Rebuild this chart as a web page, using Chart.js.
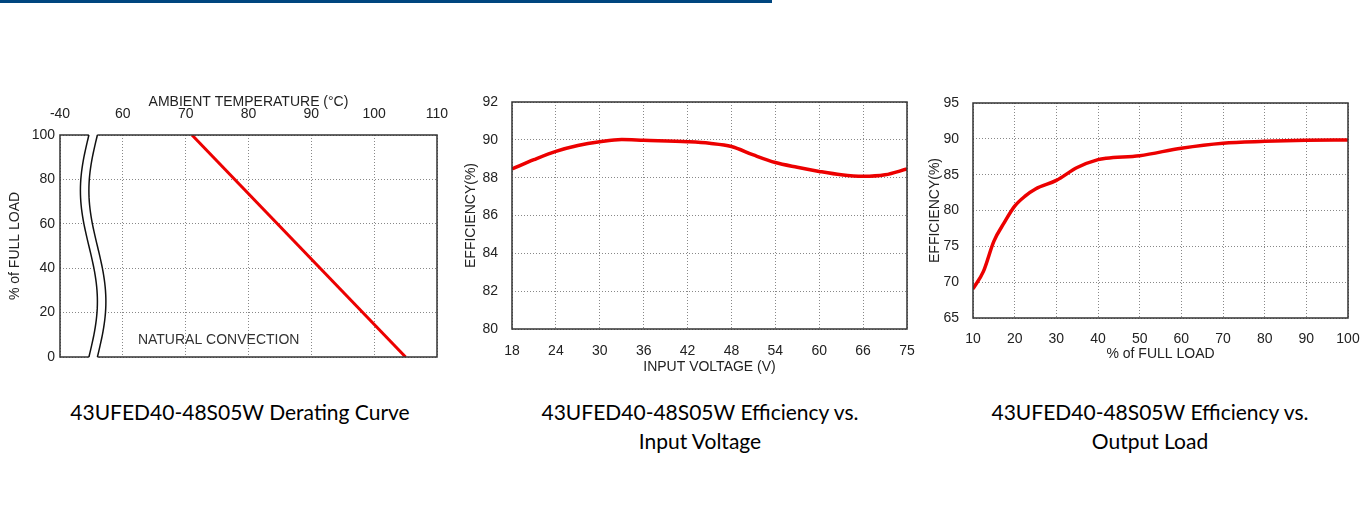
<!DOCTYPE html>
<html>
<head>
<meta charset="utf-8">
<script src="https://cdn.jsdelivr.net/npm/chart.js@4.4.1/dist/chart.umd.min.js"></script>
<style>
  body { margin: 0; background: #fff; width: 1364px; height: 512px; position: relative; overflow: hidden; }
  .topbar { position: absolute; left: 0; top: 0; width: 772px; height: 3px; background: #00467f; }
  .box { position: absolute; }
  .cap { position: absolute; font-family: Lato, "Open Sans", sans-serif; font-size: 21px; color: #000; text-align: center; line-height: 29px; }
</style>
</head>
<body>
<div class="topbar"></div>
<div class="box" style="left:0px;top:90px;width:460px;height:280px"><canvas id="derating"></canvas></div>
<div class="box" style="left:455px;top:90px;width:470px;height:290px"><canvas id="effVin"></canvas></div>
<div class="box" style="left:920px;top:90px;width:444px;height:280px"><canvas id="effLoad"></canvas></div>
<div class="cap" style="left:40px;top:397px;width:400px">43UFED40-48S05W Derating Curve</div>
<div class="cap" style="left:500px;top:397px;width:400px">43UFED40-48S05W Efficiency vs.<br>Input Voltage</div>
<div class="cap" style="left:950px;top:397px;width:400px">43UFED40-48S05W Efficiency vs.<br>Output Load</div>
<script>
// derating curve
const tempTicks = ['-40', '60', '70', '80', '90', '100', '110'];
const deratingTemp = [71, 105];
const deratingLoad = [100, 0];

// efficiency vs input voltage (x = position of the tick, ticks are evenly spaced)
const voltTicks = ['18', '24', '30', '36', '42', '48', '54', '60', '66', '75'];
const voltPos = [0, 0.5, 1, 1.5, 2, 2.5, 3, 4, 4.5, 5, 5.5, 6, 6.5, 7, 7.5, 8, 8.5, 9];
const effVin = [88.46, 88.95, 89.39, 89.7, 89.9, 90.02, 89.98, 89.9, 89.82, 89.65, 89.2, 88.8, 88.55, 88.33, 88.15, 88.07, 88.15, 88.46];

// efficiency vs output load
const loadPct = [10, 12.5, 15, 17.5, 20, 22.5, 25, 30, 35, 40, 42, 50, 60, 70, 80, 90, 100];
const effLoad = [69.05, 71.5, 75.7, 78.3, 80.6, 82, 83, 84.2, 86, 87.1, 87.3, 87.65, 88.7, 89.4, 89.65, 89.8, 89.85];

const FONT = 'Liberation Sans, Arial, sans-serif';
const RED = '#ec0000';
Chart.defaults.font.family = FONT;
Chart.defaults.font.size = 14;
Chart.defaults.color = '#222';
Chart.defaults.animation = false;

const frame = {
    id: 'frame',
    afterDatasetsDraw(chart) {
        const a = chart.chartArea, ctx = chart.ctx;
        ctx.save();
        ctx.strokeStyle = '#333';
        ctx.lineWidth = 1.5;
        ctx.strokeRect(a.left, a.top, a.right - a.left, a.bottom - a.top);
        ctx.restore();
    }
};

// axis break and note on the derating chart
const breakMark = {
    id: 'breakMark',
    afterDraw(chart) {
        const a = chart.chartArea, ctx = chart.ctx;
        const x = chart.scales.x, y = chart.scales.y;
        const c1 = x.getPixelForValue(54.6), c2 = x.getPixelForValue(55.95);
        const amp = 8.5, h = a.bottom - a.top;
        const curve = (c, t) => c - amp * Math.sin(2 * Math.PI * t);
        ctx.save();
        ctx.beginPath();
        for (let i = 0; i <= 60; i++) {
            const t = i / 60;
            const px = curve(c1, t), py = a.top - 1 + t * (h + 2);
            i ? ctx.lineTo(px, py) : ctx.moveTo(px, py);
        }
        for (let i = 60; i >= 0; i--) {
            const t = i / 60;
            ctx.lineTo(curve(c2, t), a.top - 1 + t * (h + 2));
        }
        ctx.closePath();
        ctx.fillStyle = '#fff';
        ctx.fill();
        ctx.strokeStyle = '#111';
        ctx.lineWidth = 1.5;
        [c1, c2].forEach(c => {
            ctx.beginPath();
            for (let i = 0; i <= 60; i++) {
                const t = i / 60;
                const px = curve(c, t), py = a.top + t * h;
                i ? ctx.lineTo(px, py) : ctx.moveTo(px, py);
            }
            ctx.stroke();
        });
        ctx.fillStyle = '#333';
        ctx.font = '14px ' + FONT;
        ctx.textBaseline = 'middle';
        ctx.fillText('NATURAL CONVECTION', x.getPixelForValue(62.4), y.getPixelForValue(7.5));
        ctx.restore();
    }
};

function gridOpts() {
    return { color: '#888', drawTicks: false, lineWidth: 1 };
}
function borderOpts() {
    return { display: false, dash: [1, 2] };
}
// fixed axis size, no automatic label overflow margins
function fixSize(prop, size) {
    return s => {
        s[prop] = size;
        s.paddingTop = s.paddingBottom = s.paddingLeft = s.paddingRight = 0;
    };
}

new Chart(document.getElementById('derating'), {
    type: 'line',
    data: {
        datasets: [{
            data: deratingTemp.map((t, i) => ({ x: t, y: deratingLoad[i] })),
            borderColor: RED, borderWidth: 3, pointRadius: 0
        }]
    },
    options: {
        responsive: true, maintainAspectRatio: false,
        layout: { padding: { left: 0, right: 23, top: 0, bottom: 13 } },
        plugins: { legend: { display: false }, tooltip: { enabled: false } },
        scales: {
            x: {
                type: 'linear', position: 'top', min: 50, max: 110,
                ticks: { stepSize: 10, padding: 12, callback: (v, i) => tempTicks[i] },
                grid: gridOpts(), border: borderOpts(),
                title: { display: true, text: 'AMBIENT TEMPERATURE (\u00B0C)', padding: { top: 4, bottom: 0 } },
                afterFit: fixSize('height', 45)
            },
            y: {
                min: 0, max: 100,
                ticks: { stepSize: 20, padding: 5 },
                grid: gridOpts(), border: borderOpts(),
                title: { display: true, text: '% of FULL LOAD', padding: { top: 7, bottom: 0 } },
                afterFit: fixSize('width', 60)
            }
        }
    },
    plugins: [frame, breakMark]
});

new Chart(document.getElementById('effVin'), {
    type: 'line',
    data: {
        datasets: [{
            data: voltPos.map((p, i) => ({ x: p, y: effVin[i] })),
            borderColor: RED, borderWidth: 3.5, pointRadius: 0,
            cubicInterpolationMode: 'monotone'
        }]
    },
    options: {
        responsive: true, maintainAspectRatio: false,
        layout: { padding: { left: 0, right: 18, top: 12, bottom: 0 } },
        plugins: { legend: { display: false }, tooltip: { enabled: false } },
        scales: {
            x: {
                type: 'linear', min: 0, max: 9,
                ticks: { stepSize: 1, padding: 14, callback: v => voltTicks[v] },
                grid: gridOpts(), border: borderOpts(),
                title: { display: true, text: 'INPUT VOLTAGE (V)', padding: { top: 0, bottom: 4 } },
                afterFit: fixSize('height', 51)
            },
            y: {
                min: 80, max: 92,
                ticks: { stepSize: 2, padding: 14 },
                grid: gridOpts(), border: borderOpts(),
                title: { display: true, text: 'EFFICIENCY(%)', padding: { top: 8, bottom: 0 } },
                afterFit: fixSize('width', 57)
            }
        }
    },
    plugins: [frame]
});

new Chart(document.getElementById('effLoad'), {
    type: 'line',
    data: {
        datasets: [{
            data: loadPct.map((p, i) => ({ x: p, y: effLoad[i] })),
            borderColor: RED, borderWidth: 3.5, pointRadius: 0,
            cubicInterpolationMode: 'monotone'
        }]
    },
    options: {
        responsive: true, maintainAspectRatio: false,
        layout: { padding: { left: 0, right: 16, top: 13, bottom: 0 } },
        plugins: { legend: { display: false }, tooltip: { enabled: false } },
        scales: {
            x: {
                type: 'linear', min: 10, max: 100,
                ticks: { stepSize: 10, padding: 13 },
                grid: gridOpts(), border: borderOpts(),
                title: { display: true, text: '% of FULL LOAD', padding: { top: 0, bottom: 7 } },
                afterFit: fixSize('height', 52)
            },
            y: {
                min: 65, max: 95,
                ticks: { stepSize: 5, padding: 14 },
                grid: gridOpts(), border: borderOpts(),
                title: { display: true, text: 'EFFICIENCY(%)', padding: { top: 7, bottom: 0 } },
                afterFit: fixSize('width', 53)
            }
        }
    },
    plugins: [frame]
});
</script>
</body>
</html>
